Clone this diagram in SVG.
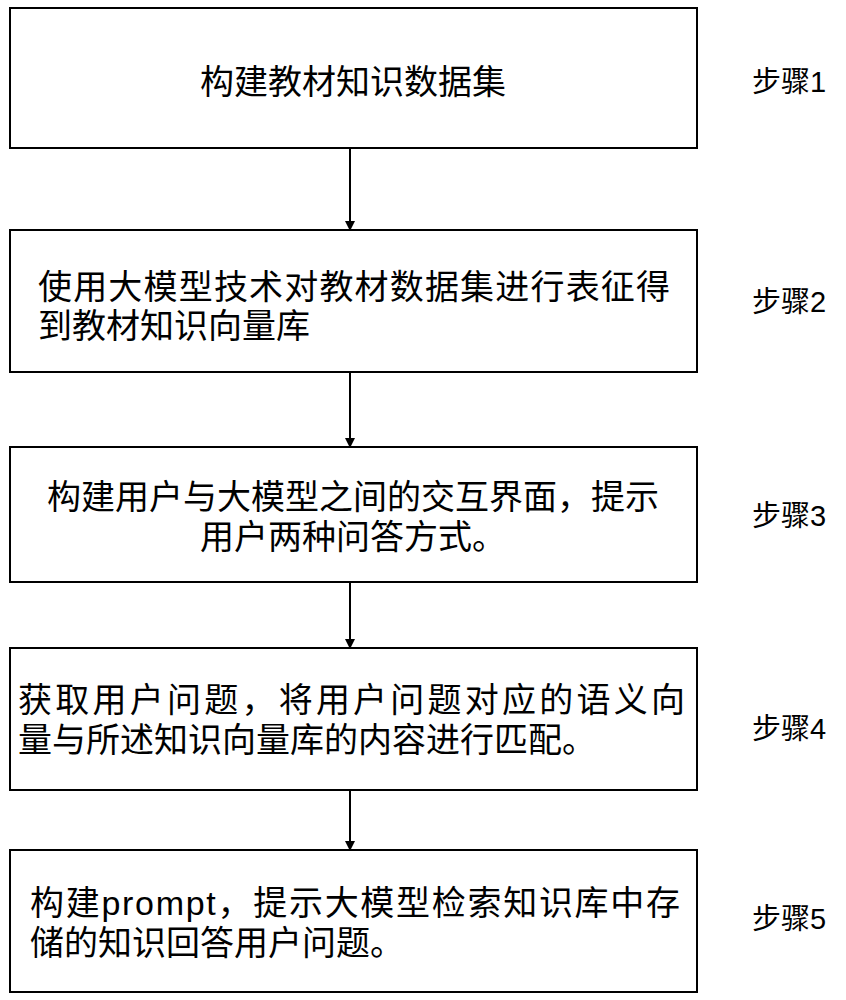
<svg xmlns="http://www.w3.org/2000/svg" width="846" height="1000" viewBox="0 0 846 1000">
<style>
.b{fill:#fff;stroke:#000;stroke-width:2}
.t{font-family:"Liberation Sans","Noto Sans CJK SC",sans-serif;font-size:34px;fill:#000;text-anchor:middle}
.l{text-anchor:start}
.s{font-family:"Liberation Sans","Noto Sans CJK SC",sans-serif;font-size:29px;fill:#000}
.c{stroke:#000;stroke-width:2;fill:none}
</style>
<defs><marker id="a" markerWidth="10" markerHeight="10" refX="8" refY="5" orient="auto" markerUnits="userSpaceOnUse"><path d="M0,0L10,5L0,10z" fill="#000"/></marker></defs>
<rect width="846" height="1000" fill="#fff"/>
<g id="connectors">
<line class="c" x1="350" y1="148" x2="350" y2="229" marker-end="url(#a)"/>
<line class="c" x1="350" y1="372" x2="350" y2="446" marker-end="url(#a)"/>
<line class="c" x1="350" y1="582" x2="350" y2="647" marker-end="url(#a)"/>
<line class="c" x1="350" y1="790" x2="350" y2="849" marker-end="url(#a)"/>
</g>
<g id="n1"><rect class="b" x="10" y="8" width="687" height="140"/><text class="t" x="353" y="94">构建教材知识数据集</text><text class="s" x="752" y="92">步骤1</text></g>
<g id="n2"><rect class="b" x="10" y="230" width="687" height="142"/><text class="t l" x="38" y="299" textLength="632" lengthAdjust="spacing">使用大模型技术对教材数据集进行表征得</text><text class="t l" x="38" y="338">到教材知识向量库</text><text class="s" x="752" y="312">步骤2</text></g>
<g id="n3"><rect class="b" x="10" y="447" width="687" height="135"/><text class="t" x="353" y="509">构建用户与大模型之间的交互界面，提示</text><text class="t" x="353" y="549">用户两种问答方式。</text><text class="s" x="752" y="526">步骤3</text></g>
<g id="n4"><rect class="b" x="10" y="648" width="687" height="142"/><text class="t l" x="18" y="712" textLength="667" lengthAdjust="spacing">获取用户问题，将用户问题对应的语义向</text><text class="t l" x="18" y="752">量与所述知识向量库的内容进行匹配。</text><text class="s" x="752" y="739">步骤4</text></g>
<g id="n5"><rect class="b" x="10" y="850" width="687" height="142"/><text class="t l" x="30" y="915" textLength="650" lengthAdjust="spacing">构建prompt，提示大模型检索知识库中存</text><text class="t l" x="30" y="955">储的知识回答用户问题。</text><text class="s" x="752" y="929">步骤5</text></g>
</svg>
